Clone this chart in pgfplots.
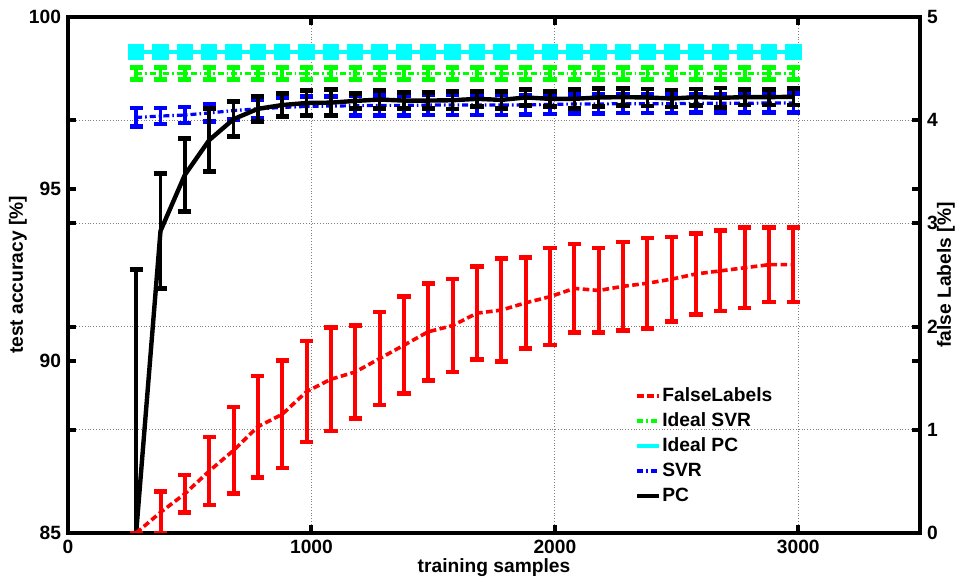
\documentclass[border=0pt]{standalone}
\usepackage{fontspec}
\setmainfont{Liberation Sans}
\usepackage{pgfplots}
\usepackage{pgfplotstable}
\pgfplotsset{compat=1.18}

\pgfplotstableread{
x    pc     pce   svr    svre  isvr   isvre  ipc
280  85.00  7.66  97.08  0.27  98.36  0.18   98.98
380  93.78  1.67  97.12  0.23  98.36  0.18   98.98
480  95.41  1.06  97.15  0.23  98.36  0.18   98.98
580  96.42  0.92  97.21  0.25  98.36  0.18   98.98
680  97.03  0.51  97.28  0.26  98.36  0.18   98.98
780  97.33  0.36  97.33  0.27  98.36  0.18   98.98
880  97.44  0.33  97.37  0.27  98.36  0.18   98.98
980  97.50  0.36  97.40  0.28  98.36  0.18   98.98
1080 97.51  0.38  97.41  0.28  98.36  0.18   98.98
1180 97.56  0.22  97.42  0.28  98.36  0.18   98.98
1280 97.60  0.26  97.43  0.29  98.36  0.18   98.98
1380 97.57  0.23  97.43  0.29  98.36  0.18   98.98
1480 97.57  0.23  97.44  0.29  98.36  0.18   98.98
1580 97.58  0.25  97.44  0.29  98.36  0.18   98.98
1680 97.62  0.22  97.44  0.29  98.36  0.18   98.98
1780 97.59  0.25  97.44  0.29  98.36  0.18   98.98
1880 97.66  0.23  97.44  0.28  98.36  0.18   98.98
1980 97.62  0.22  97.46  0.28  98.36  0.18   98.98
2080 97.62  0.28  97.47  0.28  98.36  0.18   98.98
2180 97.66  0.26  97.47  0.28  98.36  0.18   98.98
2280 97.67  0.25  97.48  0.27  98.36  0.18   98.98
2380 97.66  0.25  97.48  0.27  98.36  0.18   98.98
2480 97.63  0.25  97.48  0.27  98.36  0.18   98.98
2580 97.67  0.24  97.49  0.27  98.36  0.18   98.98
2680 97.65  0.28  97.49  0.27  98.36  0.18   98.98
2780 97.67  0.23  97.49  0.27  98.36  0.18   98.98
2880 97.67  0.23  97.50  0.27  98.36  0.18   98.98
2980 97.68  0.24  97.50  0.27  98.36  0.18   98.98
}\acc

\pgfplotstableread{
x    fl    fle
280  0.00  0.00
380  0.20  0.20
480  0.38  0.18
580  0.60  0.33
680  0.80  0.42
780  1.03  0.49
880  1.15  0.52
980  1.37  0.49
1080 1.49  0.50
1180 1.56  0.45
1280 1.69  0.45
1380 1.82  0.47
1480 1.95  0.47
1580 2.01  0.45
1680 2.13  0.45
1780 2.16  0.50
1880 2.23  0.44
1980 2.29  0.47
2080 2.37  0.43
2180 2.35  0.41
2280 2.39  0.43
2380 2.42  0.44
2480 2.46  0.41
2580 2.51  0.39
2680 2.54  0.39
2780 2.57  0.39
2880 2.60  0.36
2980 2.60  0.36
}\fl

\definecolor{mgreen}{RGB}{0,255,0}
\definecolor{mcyan}{RGB}{0,255,255}
\definecolor{mblue}{RGB}{0,0,255}
\definecolor{mred}{RGB}{255,0,0}

\pgfplotsset{
  common/.style={
    scale only axis, width=426pt, height=258pt,
    xmin=0, xmax=3500,
    font=\fontsize{9.6}{11}\selectfont\bfseries,
    /pgf/number format/assume math mode=true,
    /pgf/number format/set thousands separator={},
    ticklabel style={font=\fontsize{9.6}{11}\selectfont\bfseries},
    axis line style={line width=2pt},
    tick style={line width=2pt, black},
    major tick length=4pt,
    tick align=inside,
    grid style={densely dotted, gray, line width=0.6pt},
    clip=true,
  },
  ebar/.style={error bars/.cd, y dir=both, y explicit,
    error bar style={line width=#1, solid},
    error mark options={rotate=90, line width=2.3pt, mark size=3.3pt, solid},
    /pgfplots/.cd},
  ebar/.default=1.8pt,
}

\begin{document}
\begin{tikzpicture}
\begin{axis}[common,
  ymin=85, ymax=100,
  xtick={0,1000,2000,3000},
  ytick={85,90,95,100},
  xmajorgrids,
  extra y ticks={88,91,94,97},
  extra y tick labels={},
  extra y tick style={grid=major},
  xtick pos=both, ytick pos=both,
  xlabel={training samples},
  ylabel={test accuracy [\%]},
  xlabel style={at={(axis description cs:0.5,-0.068)}, anchor=center},
  ylabel style={at={(axis description cs:-0.0587,0.5)}, anchor=center},
]
\coordinate (SW) at (rel axis cs:0,0);
\coordinate (NE) at (rel axis cs:1,1);
\addplot[mgreen, line width=1.6pt, dash pattern=on 3pt off 1.5pt on 0.8pt off 1.5pt, ebar]
  table[x=x, y=isvr, y error=isvre] {\acc};
\addplot[mcyan, line width=2pt, mark=square*, mark size=3.1pt, mark options={solid}]
  table[x=x, y=ipc] {\acc};
\addplot[mblue, line width=1.6pt, dash pattern=on 3pt off 1.5pt on 0.8pt off 1.5pt, ebar]
  table[x=x, y=svr, y error=svre] {\acc};
\addplot[black, line width=2.2pt, ebar]
  table[x=x, y=pc, y error=pce] {\acc};
\end{axis}

\begin{axis}[common,
  ymin=0, ymax=5,
  xtick=\empty,
  ytick={0,1,2,3,4,5},
  ytick pos=both,
  yticklabel pos=right,
  ylabel={false Labels [\%]},
  ylabel style={at={(axis description cs:1.0305,0.5)}, anchor=center},
  legend image code/.code={\draw[#1] (0pt,0pt) -- (11pt,0pt);},
  legend style={at={(rel axis cs:0.665,0.2855)}, anchor=north west, draw=none, fill=none,
    inner sep=0pt, row sep=2.5pt,
    nodes={inner sep=0.5pt, text height=7pt, text depth=2pt},
    font=\fontsize{9.6}{11}\selectfont\bfseries},
  legend cell align=left,
]
\addplot[forget plot, mred, line width=1.8pt, dash pattern=on 3.3pt off 1.7pt, ebar=2pt]
  table[x=x, y=fl, y error=fle] {\fl};
\addlegendimage{mred, line width=1.8pt, dash pattern=on 3.3pt off 1.7pt}
\addlegendentry{FalseLabels}
\addlegendimage{mgreen, line width=1.6pt, dash pattern=on 3pt off 1.5pt on 0.8pt off 1.5pt}
\addlegendentry{Ideal SVR}
\addlegendimage{mcyan, line width=2pt}
\addlegendentry{Ideal PC}
\addlegendimage{mblue, line width=1.6pt, dash pattern=on 3pt off 1.5pt on 0.8pt off 1.5pt}
\addlegendentry{SVR}
\addlegendimage{black, line width=2.2pt}
\addlegendentry{PC}
\end{axis}
\pgfresetboundingbox
\path[use as bounding box] ([shift={(-34pt,-23.5pt)}]SW) rectangle ([shift={(18pt,8.5pt)}]NE);
\end{tikzpicture}
\end{document}
